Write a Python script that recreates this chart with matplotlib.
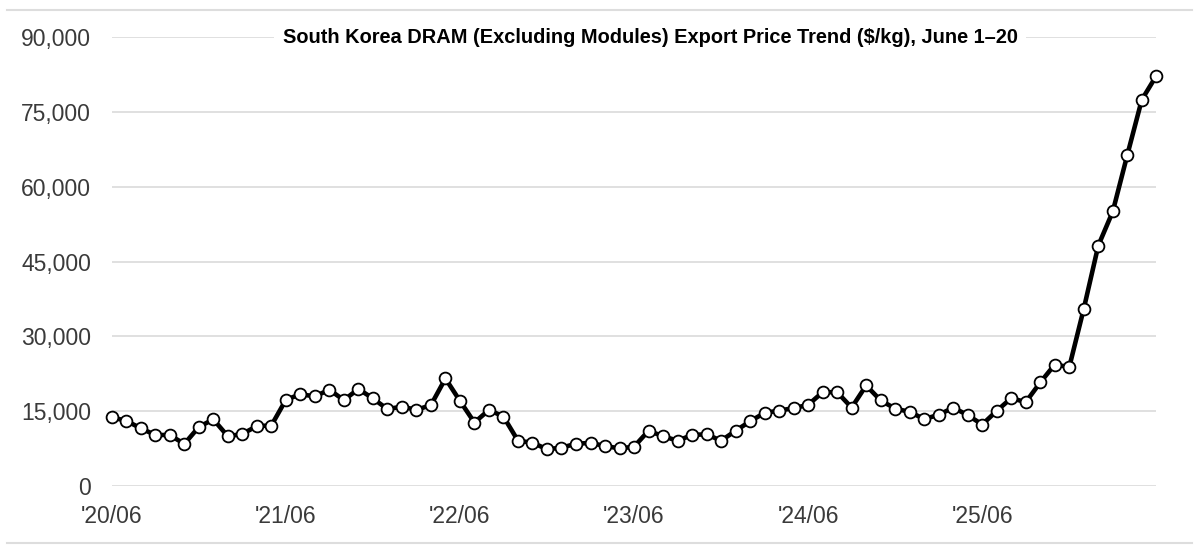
import matplotlib
matplotlib.use("Agg")
import matplotlib.pyplot as plt
from matplotlib.lines import Line2D
from matplotlib.ticker import FuncFormatter

# Monthly data, June 2020 – June 2026
months = [f"{y}/{m:02d}" for y in range(2020, 2027) for m in range(1, 13)
          if (y, m) >= (2020, 6) and (y, m) <= (2026, 6)]
prices = [
    13700, 13000, 11500, 10150, 10150, 8350, 11750, 13300, 9900, 10350, 11950, 12050,
    17200, 18350, 17900, 19250, 17150, 19400, 17500, 15350, 15850, 15200, 16150, 21500,
    17000, 12650, 15200, 13850, 9000, 8600, 7300, 7600, 8400, 8550, 7950, 7450,
    7800, 11000, 9900, 9000, 10150, 10300, 9000, 11000, 12900, 14600, 15050, 15550,
    16200, 18750, 18750, 15650, 20100, 17100, 15450, 14800, 13350, 14200, 15650, 14150,
    12250, 15000, 17550, 16750, 20700, 24300, 23800, 35500, 48200, 55050, 66400, 77500,
    82300,
]
tick_labels = ["'20/06", "'21/06", "'22/06", "'23/06", "'24/06", "'25/06"]
y_ticks = [0, 15000, 30000, 45000, 60000, 75000, 90000]
title = "South Korea DRAM (Excluding Modules) Export Price Trend ($/kg), June 1\u201320"

plt.rcParams['font.family'] = ['Liberation Sans', 'DejaVu Sans']

fig = plt.figure(figsize=(11.99, 5.48), dpi=100)
ax = fig.add_axes([0.0932, 0.114, 0.8712, 0.8176])

x = list(range(len(prices)))
ax.plot(x, prices, color='black', lw=3.3, marker='o', markersize=8.5,
        markerfacecolor='white', markeredgecolor='black', markeredgewidth=1.3,
        clip_on=False, zorder=3)

ax.set_xlim(0, len(prices) - 1)
ax.set_ylim(0, 90000)
ax.set_yticks(y_ticks)
ax.yaxis.set_major_formatter(FuncFormatter(lambda v, p: f"{int(v):,}"))
ax.set_xticks([months.index(f"20{t[1:3]}/06") for t in tick_labels])
ax.set_xticklabels(tick_labels)

ax.grid(axis='y', color='#dddddd', lw=1.3, zorder=0)
ax.grid(axis='x', visible=False)
for s in ax.spines.values():
    s.set_visible(False)
ax.tick_params(axis='both', length=0, labelsize=16.5, labelcolor='#3a3a3a')
ax.tick_params(axis='y', pad=15)
ax.tick_params(axis='x', pad=14)

ax.text(0.5 + 16 / 1045, 1.0, title, transform=ax.transAxes, ha='center', va='center',
        fontsize=14.4, fontweight='bold', color='black',
        bbox=dict(facecolor='white', edgecolor='none', pad=6), zorder=4)

# separator lines at top and bottom of the screenshot
fig.add_artist(Line2D([0.006, 0.994], [1 - 10 / 548, 1 - 10 / 548],
                      transform=fig.transFigure, color='#dddddd', lw=1.5))
fig.add_artist(Line2D([0.006, 0.994], [5 / 548, 5 / 548],
                      transform=fig.transFigure, color='#dddddd', lw=1.5))

fig.savefig("out.png", dpi=100, facecolor='white')
